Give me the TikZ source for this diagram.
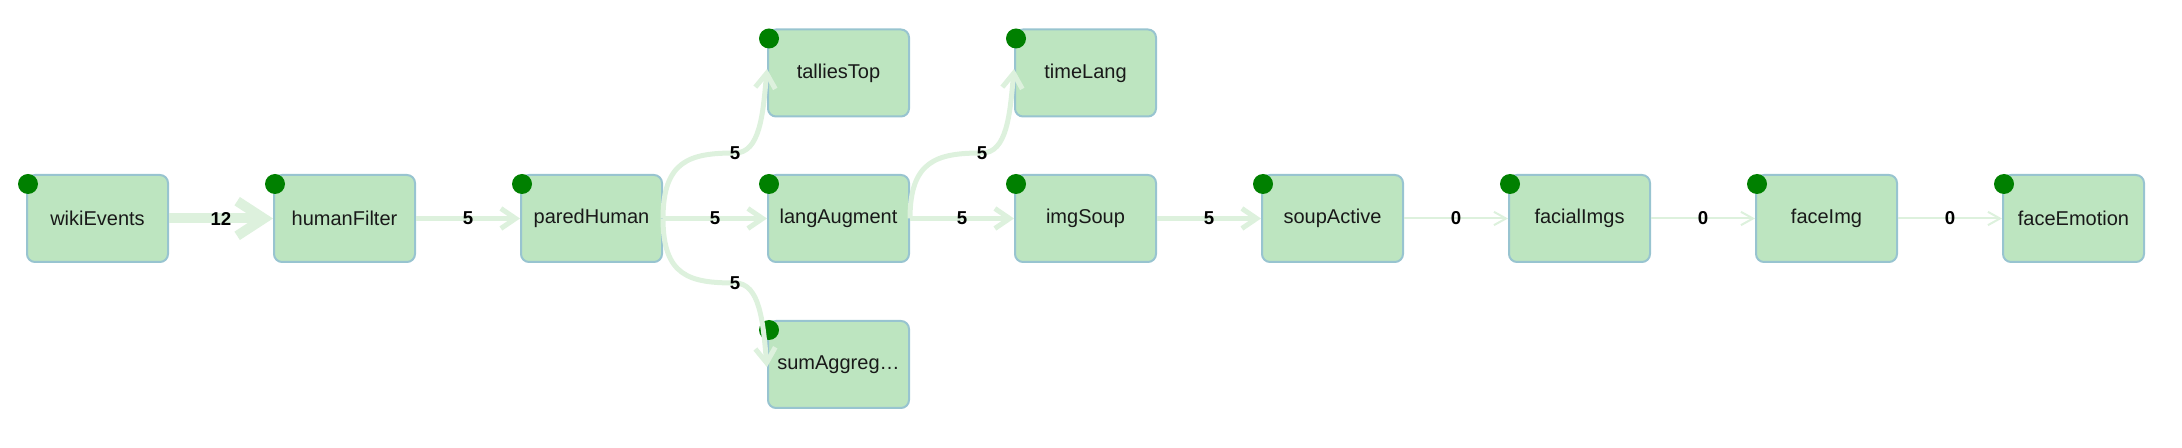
\documentclass[tikz,border=0pt]{standalone}
\usepackage{fontspec}
\setmainfont{Liberation Sans}
\usetikzlibrary{arrows.meta}

\definecolor{boxfill}{RGB}{189,229,192}
\definecolor{boxline}{RGB}{152,196,208}
\definecolor{dotgreen}{RGB}{0,128,0}
\definecolor{flowgreen}{RGB}{221,241,221}

\tikzset{every picture/.style={line width=0.75pt}}
\tikzset{
  stage/.style={draw=boxline, fill=boxfill, line width=1.5pt, rounded corners=6pt,
    minimum width=105.75pt, minimum height=65.25pt, inner sep=0pt,
    text=black!90, font=\fontsize{15}{18}\selectfont},
  flowlbl/.style={font=\fontsize{14}{16}\selectfont\bfseries, inner sep=0pt, text=black},
  flowbig/.style={draw=flowgreen, line width=7.5pt, -{Straight Barb[length=20pt,width=26pt]}},
  flowmid/.style={draw=flowgreen, line width=3.75pt, -{Straight Barb[length=11pt,width=15pt]}},
  flowthin/.style={draw=flowgreen, line width=1.5pt, -{Straight Barb[length=9pt,width=10pt]}},
}

\begin{document}
\begin{tikzpicture}[x=0.75pt,y=0.75pt,yscale=-1,xscale=1]
    \useasboundingbox (0,0) rectangle (2182,448);

    % Stage Nodes
    \node [stage] (wikiEvents)  at (97.5,218.5)   {wikiEvents};
    \node [stage] (humanFilter) at (344.5,218.5)  {humanFilter};
    \node [stage] (paredHuman)  at (591.5,218.5)  {paredHuman};
    \node [stage] (talliesTop)  at (838.5,73)     {talliesTop};
    \node [stage] (langAugment) at (838.5,218.5)  {langAugment};
    \node [stage] (sumAggreg)   at (838.5,364.5)  {sumAggreg…};
    \node [stage] (timeLang)    at (1085.5,73)    {timeLang};
    \node [stage] (imgSoup)     at (1085.5,218.5) {imgSoup};
    \node [stage] (soupActive)  at (1332.5,218.5) {soupActive};
    \node [stage] (facialImgs)  at (1579.5,218.5) {facialImgs};
    \node [stage] (faceImg)     at (1826.5,218.5) {faceImg};
    \node [stage] (faceEmotion) at (2073.5,218.5) {faceEmotion};

    % Status Dots
    \foreach \n in {wikiEvents,humanFilter,paredHuman,talliesTop,langAugment,sumAggreg,timeLang,imgSoup,soupActive,facialImgs,faceImg,faceEmotion}
      \fill [dotgreen] ([shift={(2,10)}]\n.north west) circle (7.5pt);

    % Straight Flows
    \draw [flowbig]  (wikiEvents)  -- (humanFilter) node [midway,flowlbl] {12};
    \draw [flowmid]  (humanFilter) -- (paredHuman)  node [midway,flowlbl] {5};
    \draw [flowmid]  (paredHuman)  -- (langAugment) node [midway,flowlbl] {5};
    \draw [flowmid]  (langAugment) -- (imgSoup)     node [midway,flowlbl] {5};
    \draw [flowmid]  (imgSoup)     -- (soupActive)  node [midway,flowlbl] {5};
    \draw [flowthin] (soupActive)  -- (facialImgs)  node [midway,flowlbl] {0};
    \draw [flowthin] (facialImgs)  -- (faceImg)     node [midway,flowlbl] {0};
    \draw [flowthin] (faceImg)     -- (faceEmotion) node [midway,flowlbl] {0};

    % Curved Flows
    \draw [flowmid] (paredHuman.east) .. controls +(0,-58) and +(-45,0) .. (735,153) node [flowlbl] {5}
          .. controls +(25,0) and +(-4,45) .. ([yshift=-3pt]talliesTop.west);
    \draw [flowmid] (paredHuman.east) .. controls +(0,58) and +(-45,0) .. (735,283) node [flowlbl] {5}
          .. controls +(25,0) and +(-4,-45) .. ([yshift=2pt]sumAggreg.west);
    \draw [flowmid] (langAugment.east) .. controls +(0,-58) and +(-45,0) .. (982,153) node [flowlbl] {5}
          .. controls +(25,0) and +(-4,45) .. ([yshift=-3pt]timeLang.west);

\end{tikzpicture}
\end{document}
